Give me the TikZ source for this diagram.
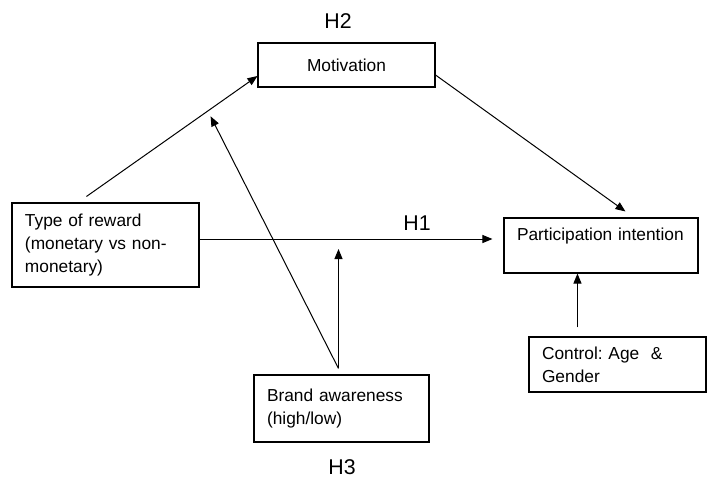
\documentclass[tikz,border=0pt]{standalone}
\usepackage{fontspec}
\setmainfont{Liberation Sans}
\usepackage{tikz}
\usetikzlibrary{arrows.meta,calc}
\frenchspacing

\tikzset{
  box/.style={draw, line width=0.8pt, rectangle, align=left, inner xsep=9.75pt,
    font=\fontsize{13}{17.25}\selectfont},
  hlabel/.style={font=\fontsize{16}{19}\selectfont},
  link/.style={-{Triangle[length=7.5pt,width=6pt]}, line width=0.75pt}
}

\begin{document}
\begin{tikzpicture}[x=0.75pt, y=-0.75pt]
    \useasboundingbox (0,0) rectangle (718,480);
    % Draw the boxes
    \node[box, align=center, minimum width=132.75pt, minimum height=33pt] (motiv) at (346.5,65) {Motivation};
    \node[box, text width=120.75pt, minimum height=63pt] (reward) at (105.5,245)
        {Type of reward\\(monetary vs non-\\monetary)};
    \node[box, text width=126pt, minimum height=41.25pt] (partic) at (601,245.5)
        {Participation intention\\\mbox{}};
    \node[box, text width=113.25pt, minimum height=41.25pt] (control) at (617.5,364.5)
        {Control: Age\ \ \&\\Gender};
    \node[box, text width=111.75pt, minimum height=50.25pt] (brand) at (341.5,408.5)
        {Brand awareness\\(high/low)};
    % Hypothesis labels
    \node[hlabel] (htwo) at (338,21) {H2};
    \node[hlabel] (hone) at (417,223) {H1};
    \node[hlabel] (hthree) at (342,467) {H3};
    % Draw the paths
    \draw[link] ([xshift=56.25pt, yshift=4.5pt]reward.north west)
        -- coordinate[pos=0.71] (hmidtwo) ([yshift=-8.25pt]motiv.west);
    \draw[link] ([yshift=-7.5pt]motiv.east) -- ([xshift=91.5pt, yshift=4.5pt]partic.north west);
    \coordinate (hstart) at ([yshift=4.5pt]reward.east);
    \draw[link, shorten >=8.25pt] (hstart) -- (hstart -| partic.west);
    \coordinate (bstart) at ([xshift=-2.25pt, yshift=4.5pt]brand.north);
    \draw[link, shorten >=4.5pt] (bstart) -- (hmidtwo);
    \draw[link, shorten >=7.5pt] (bstart) -- (bstart |- hstart);
    \coordinate (cstart) at ([xshift=36.75pt, yshift=6.75pt]control.north west);
    \draw[link] (cstart) -- (cstart |- partic.south);
\end{tikzpicture}
\end{document}
